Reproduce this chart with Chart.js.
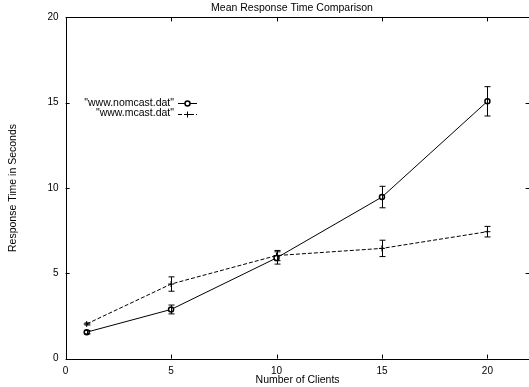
<!DOCTYPE html>
<html>
<head>
<meta charset="utf-8">
<script src="https://cdn.jsdelivr.net/npm/chart.js@4"></script>
<style>
  html, body { margin: 0; padding: 0; background: #fff; overflow: hidden; }
  canvas { display: block; }
</style>
</head>
<body>
<canvas id="chart" width="540" height="387"></canvas>
<script>
// chart data
const chartTitle = 'Mean Response Time Comparison';
const clients = [1, 5, 10, 15, 20];
const nomcastLabel = '"www.nomcast.dat"';
const nomcastMean = [1.55, 2.88, 5.9, 9.47, 15.08];
const nomcastErr = [0.1, 0.26, 0.36, 0.63, 0.86];
const mcastLabel = '"www.mcast.dat"';
const mcastMean = [2.03, 4.37, 6.04, 6.46, 7.44];
const mcastErr = [0.06, 0.42, 0.3, 0.48, 0.31];
const xTickValues = [0, 5, 10, 15, 20];
const yTickValues = [0, 5, 10, 15, 20];
const errors = [nomcastErr, mcastErr];

const FONT = 'Liberation Sans, Arial, Helvetica, sans-serif';

// gnuplot style frame with ticks pointing inward + error bars + legend
const gnuplotLook = {
    id: 'gnuplotLook',
    afterDatasetsDraw(chart) {
        const ctx = chart.ctx;
        const xs = chart.scales.x, ys = chart.scales.y;
        ctx.save();
        ctx.strokeStyle = '#000';
        ctx.lineWidth = 1;
        ctx.setLineDash([]);

        // error bars
        chart.data.datasets.forEach((ds, i) => {
            ds.data.forEach((p, j) => {
                const px = Math.round(xs.getPixelForValue(p.x)) + 0.5;
                const y1 = ys.getPixelForValue(p.y - errors[i][j]);
                const y2 = ys.getPixelForValue(p.y + errors[i][j]);
                ctx.beginPath();
                ctx.moveTo(px, y1); ctx.lineTo(px, y2);
                ctx.moveTo(px - 3, y1); ctx.lineTo(px + 3, y1);
                ctx.moveTo(px - 3, y2); ctx.lineTo(px + 3, y2);
                ctx.stroke();
            });
        });

        // frame
        const a = chart.chartArea;
        ctx.beginPath();
        ctx.rect(Math.round(a.left) + 0.5, Math.round(a.top) + 0.5,
                 a.right - a.left, Math.round(a.bottom) - Math.round(a.top));
        ctx.stroke();

        // ticks inside
        ctx.beginPath();
        xTickValues.forEach(v => {
            const px = Math.round(xs.getPixelForValue(v)) + 0.5;
            ctx.moveTo(px, a.bottom); ctx.lineTo(px, a.bottom - 4);
            ctx.moveTo(px, a.top); ctx.lineTo(px, a.top + 4);
        });
        yTickValues.forEach(v => {
            const py = Math.round(ys.getPixelForValue(v)) + 0.5;
            ctx.moveTo(a.left, py); ctx.lineTo(a.left + 4, py);
            ctx.moveTo(a.right, py); ctx.lineTo(a.right - 4, py);
        });
        ctx.stroke();

        // legend (text on the left, sample on the right)
        ctx.font = '10.5px ' + FONT;
        ctx.fillStyle = '#000';
        ctx.textAlign = 'right';
        ctx.textBaseline = 'middle';
        chart.data.datasets.forEach((ds, i) => {
            const ly = 103 + i * 10.5;
            ctx.fillText(ds.label, 174, ly);
            ctx.setLineDash(ds.borderDash || []);
            ctx.beginPath();
            ctx.moveTo(178, Math.round(ly) + 0.5);
            ctx.lineTo(197, Math.round(ly) + 0.5);
            ctx.stroke();
            ctx.setLineDash([]);
            ctx.beginPath();
            const cx = 187.5, cy = Math.round(ly) + 0.5;
            if (ds.pointStyle === 'cross') {
                ctx.moveTo(cx - 3, cy); ctx.lineTo(cx + 3, cy);
                ctx.moveTo(cx, cy - 3); ctx.lineTo(cx, cy + 3);
                ctx.stroke();
            } else {
                ctx.arc(cx, cy, 2.5, 0, Math.PI * 2);
                ctx.fillStyle = '#fff';
                ctx.fill();
                ctx.lineWidth = 1.5;
                ctx.stroke();
                ctx.lineWidth = 1;
                ctx.fillStyle = '#000';
            }
        });

        // title
        ctx.textAlign = 'center';
        ctx.fillText(chartTitle, 292, 8.5);
        ctx.restore();
    }
};

const ctx = document.getElementById('chart').getContext('2d');
const chart = new Chart(ctx, {
    type: 'line',
    data: {
        datasets: [{
            label: nomcastLabel,
            data: clients.map((c, i) => ({ x: c, y: nomcastMean[i] })),
            borderColor: '#000',
            borderWidth: 1,
            pointStyle: 'circle',
            pointRadius: 2.5,
            pointBorderWidth: 1.5,
            pointBackgroundColor: '#fff',
            pointBorderColor: '#000',
            tension: 0
        }, {
            label: mcastLabel,
            data: clients.map((c, i) => ({ x: c, y: mcastMean[i] })),
            borderColor: '#000',
            borderWidth: 1,
            borderDash: [4, 2],
            pointStyle: 'cross',
            pointRadius: 3,
            pointBorderWidth: 1,
            pointBorderColor: '#000',
            tension: 0
        }]
    },
    options: {
        responsive: false,
        animation: false,
        layout: { padding: { top: 17.4, right: 10.4, left: 0, bottom: 0 } },
        plugins: {
            legend: { display: false },
            title: { display: false },
            tooltip: { enabled: false }
        },
        scales: {
            x: {
                type: 'linear',
                min: 0,
                max: 22,
                afterBuildTicks: s => { s.ticks = xTickValues.map(v => ({ value: v })); },
                afterFit: s => { s.height = 28.4; },
                grid: { display: false, drawTicks: false },
                border: { display: false },
                ticks: { color: '#000', padding: 7, font: { family: FONT, size: 10 } },
                title: {
                    display: true,
                    text: 'Number of Clients',
                    color: '#000',
                    font: { family: FONT, size: 10.5 },
                    padding: { top: 0, bottom: 0.4 }
                }
            },
            y: {
                type: 'linear',
                min: 0,
                max: 20,
                afterBuildTicks: s => { s.ticks = yTickValues.map(v => ({ value: v })); },
                afterFit: s => { s.width = 65.6; },
                grid: { display: false, drawTicks: false },
                border: { display: false },
                ticks: { color: '#000', padding: 7, font: { family: FONT, size: 10 } },
                title: {
                    display: true,
                    text: 'Response Time in Seconds',
                    color: '#000',
                    font: { family: FONT, size: 10.5 },
                    padding: { top: 6.7, bottom: 0 }
                }
            }
        }
    },
    plugins: [gnuplotLook]
});
</script>
</body>
</html>
